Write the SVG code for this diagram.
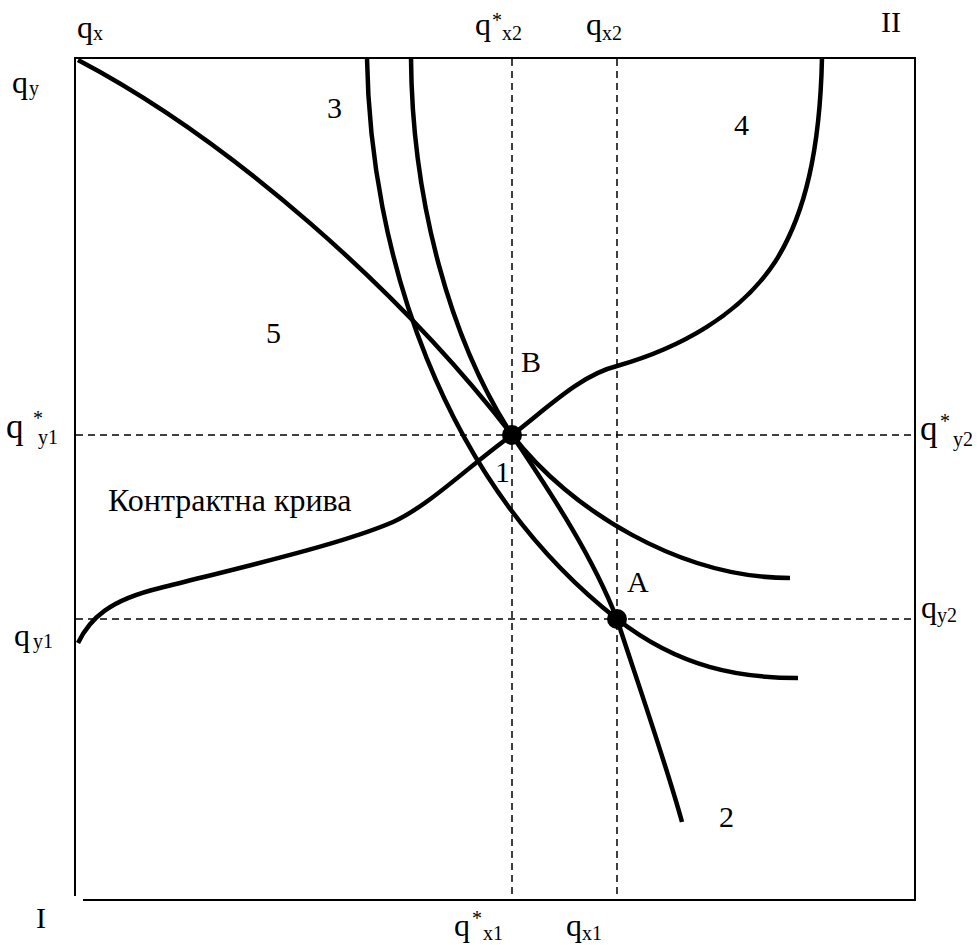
<svg xmlns="http://www.w3.org/2000/svg" width="977" height="945" viewBox="0 0 977 945">
<style>
  .frame { stroke: #000; stroke-width: 2; fill: none; }
  .guide { stroke: #000; stroke-width: 1.5; stroke-dasharray: 7,5; fill: none; }
  .curve { stroke: #000; stroke-width: 4.5; fill: none; stroke-linecap: butt; }
  .pt { fill: #000; }
  .t { font-family: 'Liberation Serif', 'Times New Roman', Times, 'DejaVu Serif', serif; fill: #000; }
  .lab { font-size: 30px; }
  .q { font-size: 32px; }
  .qb { font-size: 35px; }
  .sub { font-size: 20px; }
  .star { font-size: 20px; }
</style>
<rect width="977" height="945" fill="#fff"/>

<g id="frame">
  <line class="frame" x1="75" y1="58" x2="915" y2="58"/>
  <line class="frame" x1="75" y1="57" x2="75" y2="896"/>
  <line class="frame" x1="915" y1="57" x2="915" y2="901"/>
  <line class="frame" x1="83" y1="900" x2="916" y2="900"/>
</g>

<g id="guides">
  <line class="guide" x1="512" y1="59" x2="512" y2="896"/>
  <line class="guide" x1="617" y1="59" x2="617" y2="896"/>
  <line class="guide" x1="76" y1="435" x2="914" y2="435"/>
  <line class="guide" x1="76" y1="619" x2="914" y2="619"/>
</g>

<g id="connectors">
  <path id="curve-5" class="curve" d="M78,60 C230,140 400,290 512,435 C570,510 680,578 790,578"/>
  <path id="curve-2" class="curve" d="M411,58 C412,200 450,340 512,435 C545,485 590,550 617,619 C630,660 665,760 682,822"/>
  <path id="curve-3" class="curve" d="M367,58 C370,250 440,480 617,619 C680,668 740,678 798,678"/>
  <path id="contract-curve" class="curve" d="M78,643 C90,618 110,600 160,588 C230,570 340,545 393,522 C430,505 470,465 512,435 C545,410 580,375 617,366 C680,348 740,315 775,262 C805,215 820,150 822,58"/>
</g>

<g id="point-B"><circle class="pt" cx="512" cy="435" r="10"/></g>
<g id="point-A"><circle class="pt" cx="617" cy="619" r="10"/></g>

<g id="labels" font-family="Liberation Serif, serif">
  <text class="t q" x="77" y="38">q</text><text class="t sub" x="93" y="40">x</text>
  <text class="t q" x="475" y="35">q</text><text class="t star" x="492" y="27">*</text><text class="t sub" x="502" y="40">x2</text>
  <text class="t q" x="586" y="35">q</text><text class="t sub" x="602" y="40">x2</text>
  <text class="t lab" x="881" y="32">II</text>
  <text class="t q" x="12" y="93">q</text><text class="t sub" x="29" y="95">y</text>
  <text class="t lab" x="327" y="118">3</text>
  <text class="t lab" x="734" y="135">4</text>
  <text class="t lab" x="266" y="343">5</text>
  <text class="t lab" x="521" y="372">B</text>
  <text class="t lab" x="495" y="482">1</text>
  <text class="t lab" x="627" y="592">A</text>
  <text class="t lab" x="719" y="827">2</text>
  <text class="t qb" x="6" y="438">q</text><text class="t star" x="33" y="425">*</text><text class="t sub" x="38" y="444">y1</text>
  <text class="t qb" x="920" y="440">q</text><text class="t star" x="940" y="428">*</text><text class="t sub" x="953" y="446">y2</text>
  <text class="t q" x="921" y="618">q</text><text class="t sub" x="937" y="622">y2</text>
  <text class="t q" x="14" y="646">q</text><text class="t sub" x="33" y="648">y1</text>
  <text class="t" style="font-size:32px" x="108" y="511">Контрактна крива</text>
  <text class="t lab" x="36" y="928">I</text>
  <text class="t q" x="454" y="936">q</text><text class="t star" x="472" y="925">*</text><text class="t sub" x="483" y="940">x1</text>
  <text class="t q" x="566" y="936">q</text><text class="t sub" x="582" y="940">x1</text>
</g>
</svg>
